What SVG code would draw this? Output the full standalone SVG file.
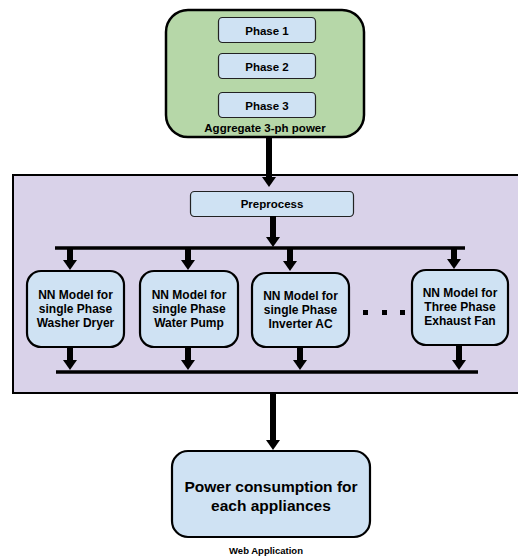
<svg xmlns="http://www.w3.org/2000/svg" width="518" height="557" viewBox="0 0 518 557">
<style>
text{font-family:"Liberation Sans",Arial,sans-serif;font-weight:bold;fill:#000;text-anchor:middle}
.phase{fill:#cfe2f3;stroke:#222;stroke-width:1.2}
.nn{fill:#cfe2f3;stroke:#000;stroke-width:2.2}
.shaft{stroke:#000;stroke-width:6;fill:none}
.bar{stroke:#000;stroke-width:3.5;fill:none}
.t12{font-size:12px}
.t11{font-size:11.5px}
</style>
<defs>
<marker id="ah" markerUnits="userSpaceOnUse" viewBox="0 0 10 14" markerWidth="10" markerHeight="14" refX="2" refY="7" orient="auto">
<path d="M0,0 L10,7 L0,14 Z" fill="#000"/>
</marker>
</defs>
<g id="aggregate">
<rect x="166" y="10" width="198" height="127" rx="22" fill="#b6d7a8" stroke="#000" stroke-width="2.5"/>
<text x="265" y="132" class="t11">Aggregate 3-ph power</text>
</g>
<g id="phase1"><rect class="phase" x="218.5" y="17.5" width="97" height="25" rx="4"/><text x="267" y="35" class="t11">Phase 1</text></g>
<g id="phase2"><rect class="phase" x="218.5" y="53.5" width="97" height="25" rx="4"/><text x="267" y="71" class="t11">Phase 2</text></g>
<g id="phase3"><rect class="phase" x="218.5" y="92.5" width="97" height="25" rx="4"/><text x="267" y="110" class="t11">Phase 3</text></g>
<g id="pipeline">
<rect x="13" y="175" width="520" height="218" fill="#d9d2e9" stroke="#000" stroke-width="2"/>
</g>
<g id="preprocess"><rect class="phase" x="190.5" y="191.5" width="163" height="25" rx="4"/><text x="272" y="207.5" class="t11">Preprocess</text></g>
<g id="nn1"><rect class="nn" x="27" y="271" width="97" height="76" rx="14"/>
<text x="75.5" class="t12"><tspan x="75.5" y="299">NN Model for</tspan><tspan x="75.5" y="313">single Phase</tspan><tspan x="75.5" y="327">Washer Dryer</tspan></text></g>
<g id="nn2"><rect class="nn" x="140" y="271" width="98" height="76" rx="14"/>
<text x="189" class="t12"><tspan x="189" y="299">NN Model for</tspan><tspan x="189" y="313">single Phase</tspan><tspan x="189" y="327">Water Pump</tspan></text></g>
<g id="nn3"><rect class="nn" x="252" y="273" width="97" height="74" rx="14"/>
<text x="300.5" class="t12"><tspan x="300.5" y="300">NN Model for</tspan><tspan x="300.5" y="314">single Phase</tspan><tspan x="300.5" y="328">Inverter AC</tspan></text></g>
<g id="nn4"><rect class="nn" x="412" y="270" width="96" height="75" rx="14"/>
<text x="460" class="t12"><tspan x="460" y="297">NN Model for</tspan><tspan x="460" y="311">Three Phase</tspan><tspan x="460" y="325">Exhaust Fan</tspan></text></g>
<g id="ellipsis">
<rect x="363" y="310" width="5" height="5" fill="#000"/>
<rect x="382" y="310" width="5" height="5" fill="#000"/>
<rect x="400" y="310" width="5" height="5" fill="#000"/>
</g>
<g id="output"><rect class="nn" x="172" y="451" width="198" height="86" rx="16"/>
<text x="271" style="font-size:15.5px"><tspan x="271" y="492">Power consumption for</tspan><tspan x="271" y="511">each appliances</tspan></text></g>
<g id="webapp"><text x="266" y="554" style="font-size:9.5px">Web Application</text></g>
<g id="connectors">
<line class="shaft" x1="269" y1="137" x2="269" y2="179" marker-end="url(#ah)"/>
<line class="shaft" x1="273" y1="216" x2="273" y2="239" marker-end="url(#ah)"/>
<line class="bar" x1="55" y1="248" x2="465" y2="248"/>
<line class="shaft" x1="70" y1="248" x2="70" y2="262" marker-end="url(#ah)"/>
<line class="shaft" x1="188" y1="248" x2="188" y2="262" marker-end="url(#ah)"/>
<line class="shaft" x1="290" y1="248" x2="290" y2="263" marker-end="url(#ah)"/>
<line class="shaft" x1="454" y1="248" x2="454" y2="261" marker-end="url(#ah)"/>
<line class="shaft" x1="70" y1="347" x2="70" y2="362" marker-end="url(#ah)"/>
<line class="shaft" x1="188" y1="347" x2="188" y2="362" marker-end="url(#ah)"/>
<line class="shaft" x1="300" y1="347" x2="300" y2="362" marker-end="url(#ah)"/>
<line class="shaft" x1="459" y1="345" x2="459" y2="362" marker-end="url(#ah)"/>
<line class="bar" x1="56" y1="372" x2="478" y2="372"/>
<line class="shaft" x1="273" y1="393" x2="273" y2="442" marker-end="url(#ah)"/>
</g>
</svg>
